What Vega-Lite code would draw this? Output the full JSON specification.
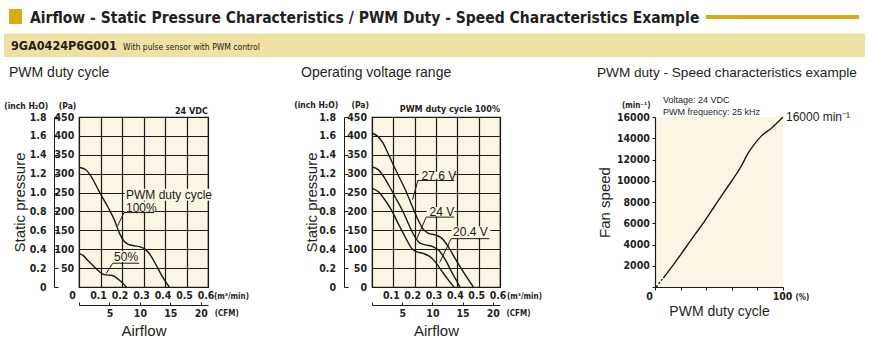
{
  "$schema": "https://vega.github.io/schema/vega-lite/v6.json",
  "padding": {"left": 3, "top": 8, "right": 0, "bottom": 0},
  "background": "#ffffff",
  "bounds": "flush",
  "spacing": 49,
  "config": {
    "view": {"stroke": null},
    "font": "Liberation Sans, Arial, sans-serif",
    "title": {"font": "Liberation Sans, Arial, sans-serif", "fontSize": 14, "fontWeight": "normal", "color": "#231F20", "anchor": "start", "frame": "group", "baseline": "bottom"},
    "axis": {
      "labelFont": "Liberation Sans Narrow, Arial Narrow, DejaVu Sans Condensed, sans-serif",
      "labelFontSize": 10.5, "labelFontWeight": "bold", "labelColor": "#231F20",
      "labelFlush": false, "labelOverlap": false,
      "titleFont": "Liberation Sans, Arial, sans-serif", "titleFontSize": 15, "titleFontWeight": "normal", "titleColor": "#231F20",
      "domainColor": "#1a1a1a", "tickColor": "#1a1a1a", "gridColor": "#1a1a1a", "gridWidth": 1.2, "gridOpacity": 1, "domainWidth": 1, "tickWidth": 1
    }
  },
  "datasets": {
    "p1_curves": [
      {"duty": "100%", "flow": 0, "pa": 317}, {"duty": "100%", "flow": 0.03, "pa": 311}, {"duty": "100%", "flow": 0.055, "pa": 294},
      {"duty": "100%", "flow": 0.08, "pa": 268}, {"duty": "100%", "flow": 0.105, "pa": 241}, {"duty": "100%", "flow": 0.135, "pa": 211},
      {"duty": "100%", "flow": 0.165, "pa": 177}, {"duty": "100%", "flow": 0.19, "pa": 140}, {"duty": "100%", "flow": 0.21, "pa": 121},
      {"duty": "100%", "flow": 0.23, "pa": 113}, {"duty": "100%", "flow": 0.26, "pa": 109}, {"duty": "100%", "flow": 0.285, "pa": 106},
      {"duty": "100%", "flow": 0.31, "pa": 99}, {"duty": "100%", "flow": 0.335, "pa": 82}, {"duty": "100%", "flow": 0.36, "pa": 57},
      {"duty": "100%", "flow": 0.385, "pa": 30}, {"duty": "100%", "flow": 0.405, "pa": 12}, {"duty": "100%", "flow": 0.42, "pa": 0},
      {"duty": "50%", "flow": 0, "pa": 89}, {"duty": "50%", "flow": 0.02, "pa": 83}, {"duty": "50%", "flow": 0.04, "pa": 71},
      {"duty": "50%", "flow": 0.065, "pa": 57}, {"duty": "50%", "flow": 0.09, "pa": 43}, {"duty": "50%", "flow": 0.11, "pa": 34},
      {"duty": "50%", "flow": 0.125, "pa": 32}, {"duty": "50%", "flow": 0.15, "pa": 31}, {"duty": "50%", "flow": 0.17, "pa": 26},
      {"duty": "50%", "flow": 0.19, "pa": 17}, {"duty": "50%", "flow": 0.205, "pa": 9}, {"duty": "50%", "flow": 0.22, "pa": 0}
    ],
    "p1_boxes": [
      {"flow": 0.212, "flow2": 0.625, "pa": 228, "pa2": 260},
      {"flow": 0.212, "flow2": 0.355, "pa": 199, "pa2": 226},
      {"flow": 0.16, "flow2": 0.28, "pa": 66, "pa2": 95}
    ],
    "p1_leaders": [
      {"flow": 0.209, "pa": 197, "flow2": 0.349, "pa2": 197},
      {"flow": 0.209, "pa": 197, "flow2": 0.18, "pa2": 162},
      {"flow": 0.157, "pa": 63, "flow2": 0.28, "pa2": 63},
      {"flow": 0.157, "pa": 63, "flow2": 0.127, "pa2": 36}
    ],
    "p1_labels": [
      {"text": "PWM duty cycle", "flow": 0.2186, "pa": 243.5},
      {"text": "100%", "flow": 0.2186, "pa": 210},
      {"text": "50%", "flow": 0.163, "pa": 80}
    ],
    "p2_curves": [
      {"volt": "27.6 V", "flow": 0, "pa": 407}, {"volt": "27.6 V", "flow": 0.025, "pa": 400}, {"volt": "27.6 V", "flow": 0.05, "pa": 383},
      {"volt": "27.6 V", "flow": 0.075, "pa": 354}, {"volt": "27.6 V", "flow": 0.1, "pa": 323}, {"volt": "27.6 V", "flow": 0.13, "pa": 288},
      {"volt": "27.6 V", "flow": 0.16, "pa": 253}, {"volt": "27.6 V", "flow": 0.19, "pa": 212}, {"volt": "27.6 V", "flow": 0.215, "pa": 179},
      {"volt": "27.6 V", "flow": 0.24, "pa": 153}, {"volt": "27.6 V", "flow": 0.265, "pa": 142}, {"volt": "27.6 V", "flow": 0.295, "pa": 138},
      {"volt": "27.6 V", "flow": 0.325, "pa": 130}, {"volt": "27.6 V", "flow": 0.355, "pa": 109}, {"volt": "27.6 V", "flow": 0.385, "pa": 80},
      {"volt": "27.6 V", "flow": 0.425, "pa": 43}, {"volt": "27.6 V", "flow": 0.455, "pa": 17}, {"volt": "27.6 V", "flow": 0.475, "pa": 0},
      {"volt": "24 V", "flow": 0, "pa": 318}, {"volt": "24 V", "flow": 0.03, "pa": 310}, {"volt": "24 V", "flow": 0.055, "pa": 292},
      {"volt": "24 V", "flow": 0.08, "pa": 268}, {"volt": "24 V", "flow": 0.11, "pa": 237}, {"volt": "24 V", "flow": 0.145, "pa": 200},
      {"volt": "24 V", "flow": 0.175, "pa": 162}, {"volt": "24 V", "flow": 0.2, "pa": 134}, {"volt": "24 V", "flow": 0.225, "pa": 116},
      {"volt": "24 V", "flow": 0.255, "pa": 111}, {"volt": "24 V", "flow": 0.285, "pa": 107}, {"volt": "24 V", "flow": 0.315, "pa": 96},
      {"volt": "24 V", "flow": 0.345, "pa": 71}, {"volt": "24 V", "flow": 0.375, "pa": 38}, {"volt": "24 V", "flow": 0.395, "pa": 18},
      {"volt": "24 V", "flow": 0.412, "pa": 0},
      {"volt": "20.4 V", "flow": 0, "pa": 262}, {"volt": "20.4 V", "flow": 0.03, "pa": 252}, {"volt": "20.4 V", "flow": 0.06, "pa": 231},
      {"volt": "20.4 V", "flow": 0.09, "pa": 205}, {"volt": "20.4 V", "flow": 0.12, "pa": 171}, {"volt": "20.4 V", "flow": 0.155, "pa": 133},
      {"volt": "20.4 V", "flow": 0.185, "pa": 103}, {"volt": "20.4 V", "flow": 0.21, "pa": 93}, {"volt": "20.4 V", "flow": 0.24, "pa": 89},
      {"volt": "20.4 V", "flow": 0.27, "pa": 81}, {"volt": "20.4 V", "flow": 0.3, "pa": 64}, {"volt": "20.4 V", "flow": 0.33, "pa": 40},
      {"volt": "20.4 V", "flow": 0.36, "pa": 17}, {"volt": "20.4 V", "flow": 0.385, "pa": 0}
    ],
    "p2_boxes": [
      {"flow": 0.218, "flow2": 0.387, "pa": 284, "pa2": 305},
      {"flow": 0.256, "flow2": 0.387, "pa": 187, "pa2": 212},
      {"flow": 0.373, "flow2": 0.555, "pa": 130, "pa2": 160}
    ],
    "p2_leaders": [
      {"flow": 0.215, "pa": 282, "flow2": 0.385, "pa2": 282},
      {"flow": 0.215, "pa": 282, "flow2": 0.19, "pa2": 231},
      {"flow": 0.254, "pa": 185, "flow2": 0.385, "pa2": 185},
      {"flow": 0.254, "pa": 185, "flow2": 0.208, "pa2": 125},
      {"flow": 0.371, "pa": 128, "flow2": 0.55, "pa2": 128},
      {"flow": 0.371, "pa": 128, "flow2": 0.317, "pa2": 65}
    ],
    "p2_labels": [
      {"text": "27.6 V", "flow": 0.232, "pa": 293},
      {"text": "24 V", "flow": 0.27, "pa": 199},
      {"text": "20.4 V", "flow": 0.38, "pa": 145}
    ],
    "p3_curve": [
      {"seg": "dash", "duty": 1, "rpm": 0}, {"seg": "dash", "duty": 6.5, "rpm": 850},
      {"seg": "solid", "duty": 6.5, "rpm": 850}, {"seg": "solid", "duty": 15, "rpm": 2200}, {"seg": "solid", "duty": 23, "rpm": 3550},
      {"seg": "solid", "duty": 31, "rpm": 4900}, {"seg": "solid", "duty": 38.5, "rpm": 6150}, {"seg": "solid", "duty": 46.5, "rpm": 7600},
      {"seg": "solid", "duty": 54.3, "rpm": 9000}, {"seg": "solid", "duty": 62, "rpm": 10350}, {"seg": "solid", "duty": 67.5, "rpm": 11400},
      {"seg": "solid", "duty": 72.5, "rpm": 12550}, {"seg": "solid", "duty": 78, "rpm": 13500}, {"seg": "solid", "duty": 83, "rpm": 14200},
      {"seg": "solid", "duty": 91, "rpm": 14950}, {"seg": "solid", "duty": 100, "rpm": 16000}
    ]
  },
  "vconcat": [
    {
      "width": 704,
      "height": 60,
      "data": {"values": [{"title": "Airflow - Static Pressure Characteristics / PWM Duty - Speed Characteristics Example", "model": "9GA0424P6G001", "note": "With pulse sensor with PWM control"}]},
      "layer": [
        {
          "mark": {"type": "rect", "color": "#EFE0A3"},
          "encoding": {
            "x": {"datum": -0.10653, "type": "quantitative", "scale": {"domain": [0, 1], "nice": false, "zero": false}, "axis": null},
            "x2": {"datum": 1.11648},
            "y": {"datum": 0.575, "type": "quantitative", "scale": {"domain": [0, 1], "nice": false, "zero": false}, "axis": null},
            "y2": {"datum": 0.1833}
          }
        },
        {
          "mark": {"type": "rect", "color": "#D9AB12"},
          "encoding": {
            "x": {"datum": -0.09943, "type": "quantitative"},
            "x2": {"datum": -0.08097},
            "y": {"datum": 0.9833, "type": "quantitative"},
            "y2": {"datum": 0.7333}
          }
        },
        {
          "mark": {"type": "rule", "color": "#D9AB12", "strokeWidth": 4},
          "encoding": {
            "x": {"datum": 0.8906, "type": "quantitative"},
            "x2": {"datum": 1.108},
            "y": {"datum": 0.85, "type": "quantitative"}
          }
        },
        {
          "mark": {"type": "text", "align": "left", "baseline": "alphabetic", "font": "Liberation Sans Narrow, Arial Narrow, DejaVu Sans Condensed, sans-serif", "fontSize": 15.5, "fontWeight": "bold", "color": "#231F20"},
          "encoding": {
            "x": {"datum": -0.0696, "type": "quantitative"},
            "y": {"datum": 0.745, "type": "quantitative"},
            "text": {"field": "title"}
          }
        },
        {
          "mark": {"type": "text", "align": "left", "baseline": "middle", "font": "Liberation Sans Narrow, Arial Narrow, DejaVu Sans Condensed, sans-serif", "fontSize": 12.5, "fontWeight": "bold", "color": "#231F20"},
          "encoding": {
            "x": {"datum": -0.09659, "type": "quantitative"},
            "y": {"datum": 0.375, "type": "quantitative"},
            "text": {"field": "model"}
          }
        },
        {
          "mark": {"type": "text", "align": "left", "baseline": "middle", "font": "Liberation Sans Narrow, Arial Narrow, DejaVu Sans Condensed, sans-serif", "fontSize": 8.5, "color": "#231F20"},
          "encoding": {
            "x": {"datum": 0.0625, "type": "quantitative"},
            "y": {"datum": 0.3583, "type": "quantitative"},
            "text": {"field": "note"}
          }
        }
      ]
    },
    {
      "bounds": "flush",
      "spacing": 0,
      "hconcat": [
        {
          "width": 129,
          "height": 170,
          "title": {"text": "PWM duty cycle", "dx": -70, "offset": 22},
          "view": {"fill": "#FBF6E3", "stroke": "#1a1a1a", "strokeWidth": 1.2},
          "resolve": {"axis": {"x": "independent", "y": "independent"}},
          "layer": [
            {
              "data": {"name": "p1_boxes"},
              "mark": {"type": "rect", "fill": "#FBF6E3"},
              "encoding": {
                "x": {"field": "flow", "type": "quantitative", "scale": {"domain": [0, 0.6], "nice": false, "zero": false}, "axis": null},
                "x2": {"field": "flow2"},
                "y": {"field": "pa", "type": "quantitative", "scale": {"domain": [0, 450], "nice": false, "zero": false}, "axis": null},
                "y2": {"field": "pa2"}
              }
            },
            {
              "data": {"name": "p1_curves"},
              "mark": {"type": "line", "interpolate": "monotone", "color": "#1a1a1a", "strokeWidth": 1.4},
              "encoding": {
                "x": {"field": "flow", "type": "quantitative", "axis": {
                  "orient": "bottom", "values": [0, 0.1, 0.2, 0.3, 0.4, 0.5, 0.6], "grid": true, "domain": false, "ticks": false, "tickSize": 0,
                  "labelPadding": 8.8, "labelBaseline": "middle",
                  "labelExpr": "datum.value == 0 ? '0' : datum.label",
                  "labelOffset": {"condition": {"test": "datum.value == 0", "value": -7}, "value": -2.5},
                  "title": "(m³/min)", "titleAngle": 0, "titleAlign": "left", "titleBaseline": "middle", "titleX": 134.5, "titleY": 9,
                  "titleFont": "Liberation Sans Narrow, Arial Narrow, DejaVu Sans Condensed, sans-serif", "titleFontSize": 8, "titleFontWeight": "bold"}},
                "y": {"field": "pa", "type": "quantitative", "axis": {
                  "orient": "left", "values": [0, 50, 100, 150, 200, 250, 300, 350, 400, 450], "grid": true, "domain": false, "ticks": false, "tickSize": 0,
                  "labelPadding": 5.3, "labelBaseline": "middle", "labelExpr": "datum.value == 0 ? '' : datum.label",
                  "title": "(Pa)", "titleAngle": 0, "titleAlign": "left", "titleBaseline": "middle", "titleX": -20.7, "titleY": -11.5,
                  "titleFont": "Liberation Sans Narrow, Arial Narrow, DejaVu Sans Condensed, sans-serif", "titleFontSize": 8.5, "titleFontWeight": "bold"}},
                "detail": {"field": "duty"}
              }
            },
            {
              "data": {"name": "p1_leaders"},
              "mark": {"type": "rule", "color": "#1a1a1a", "strokeWidth": 1},
              "encoding": {
                "x": {"field": "flow", "type": "quantitative", "axis": {
                  "orient": "bottom", "offset": 18, "grid": false, "domain": false, "ticks": false, "labels": false,
                  "title": "Airflow", "titleX": 64.5, "titleY": 25, "titleAlign": "center", "titleBaseline": "middle"}},
                "x2": {"field": "flow2"},
                "y": {"field": "pa", "type": "quantitative", "axis": {
                  "orient": "left", "offset": 25, "values": [0, 50, 100, 150, 200, 250, 300, 350, 400, 450], "grid": false, "domain": true,
                  "ticks": true, "tickSize": -4, "labels": false,
                  "title": "(inch H₂O)", "titleAngle": 0, "titleAlign": "right", "titleBaseline": "middle", "titleX": -6.3, "titleY": -11.5,
                  "titleFont": "Liberation Sans Narrow, Arial Narrow, DejaVu Sans Condensed, sans-serif", "titleFontSize": 8.5, "titleFontWeight": "bold"}},
                "y2": {"field": "pa2"}
              }
            },
            {
              "data": {"name": "p1_labels"},
              "mark": {"type": "text", "align": "left", "baseline": "middle", "font": "Liberation Sans, Arial, sans-serif", "fontSize": 12, "color": "#1a1a1a"},
              "encoding": {
                "x": {"field": "flow", "type": "quantitative", "axis": {
                  "orient": "bottom", "offset": 18, "values": [0, 0.14158, 0.28317, 0.42475, 0.56634], "grid": false, "domain": true,
                  "ticks": true, "tickSize": -3, "labelPadding": 11, "labelBaseline": "middle",
                  "labelExpr": "datum.value < 0.01 ? '' : format(datum.value / 0.0283168, '.0f')",
                  "title": "(CFM)", "titleAngle": 0, "titleAlign": "left", "titleBaseline": "middle", "titleX": 135.3, "titleY": 8,
                  "titleFont": "Liberation Sans Narrow, Arial Narrow, DejaVu Sans Condensed, sans-serif", "titleFontSize": 8, "titleFontWeight": "bold"}},
                "y": {"field": "pa", "type": "quantitative", "axis": {
                  "orient": "left", "offset": 25, "values": [0, 50, 100, 150, 200, 250, 300, 350, 400, 450], "grid": false, "domain": false,
                  "ticks": false, "tickSize": 0, "labelPadding": 8, "labelBaseline": "middle",
                  "labelExpr": "datum.value == 0 ? '0' : format(datum.value / 250, '.1f')",
                  "title": "Static pressure", "titleAngle": -90, "titleAlign": "center", "titleBaseline": "middle", "titleX": -35, "titleY": 85}},
                "text": {"field": "text"}
              }
            },
            {
              "data": {"values": [{}]},
              "mark": {"type": "text", "text": "24 VDC", "align": "right", "baseline": "middle", "dy": -6, "font": "Liberation Sans Narrow, Arial Narrow, DejaVu Sans Condensed, sans-serif", "fontSize": 9, "fontWeight": "bold", "color": "#231F20"},
              "encoding": {
                "x": {"datum": 0.6, "type": "quantitative", "axis": null},
                "y": {"datum": 450, "type": "quantitative", "axis": null}
              }
            }
          ]
        },
        {
          "width": 164,
          "height": 170,
          "data": {"values": []},
          "mark": "rect",
          "encoding": {}
        },
        {
          "width": 128,
          "height": 170,
          "title": {"text": "Operating voltage range", "dx": -71, "offset": 21},
          "view": {"fill": "#FBF6E3", "stroke": "#1a1a1a", "strokeWidth": 1.2},
          "resolve": {"axis": {"x": "independent", "y": "independent"}},
          "layer": [
            {
              "data": {"name": "p2_boxes"},
              "mark": {"type": "rect", "fill": "#FBF6E3"},
              "encoding": {
                "x": {"field": "flow", "type": "quantitative", "scale": {"domain": [0, 0.6], "nice": false, "zero": false}, "axis": null},
                "x2": {"field": "flow2"},
                "y": {"field": "pa", "type": "quantitative", "scale": {"domain": [0, 450], "nice": false, "zero": false}, "axis": null},
                "y2": {"field": "pa2"}
              }
            },
            {
              "data": {"name": "p2_curves"},
              "mark": {"type": "line", "interpolate": "monotone", "color": "#1a1a1a", "strokeWidth": 1.4},
              "encoding": {
                "x": {"field": "flow", "type": "quantitative", "axis": {
                  "orient": "bottom", "values": [0, 0.1, 0.2, 0.3, 0.4, 0.5, 0.6], "grid": true, "domain": false, "ticks": false, "tickSize": 0,
                  "labelPadding": 8.8, "labelBaseline": "middle", "labelOffset": -2.5,
                  "labelExpr": "datum.value == 0 ? '' : datum.label",
                  "title": "(m³/min)", "titleAngle": 0, "titleAlign": "left", "titleBaseline": "middle", "titleX": 134.5, "titleY": 9,
                  "titleFont": "Liberation Sans Narrow, Arial Narrow, DejaVu Sans Condensed, sans-serif", "titleFontSize": 8, "titleFontWeight": "bold"}},
                "y": {"field": "pa", "type": "quantitative", "axis": {
                  "orient": "left", "values": [0, 50, 100, 150, 200, 250, 300, 350, 400, 450], "grid": true, "domain": false, "ticks": false, "tickSize": 0,
                  "labelPadding": 5.5, "labelBaseline": "middle",
                  "title": "(Pa)", "titleAngle": 0, "titleAlign": "left", "titleBaseline": "middle", "titleX": -21, "titleY": -12.5,
                  "titleFont": "Liberation Sans Narrow, Arial Narrow, DejaVu Sans Condensed, sans-serif", "titleFontSize": 8.5, "titleFontWeight": "bold"}},
                "detail": {"field": "volt"}
              }
            },
            {
              "data": {"name": "p2_leaders"},
              "mark": {"type": "rule", "color": "#1a1a1a", "strokeWidth": 1},
              "encoding": {
                "x": {"field": "flow", "type": "quantitative", "axis": {
                  "orient": "bottom", "offset": 18, "grid": false, "domain": false, "ticks": false, "labels": false,
                  "title": "Airflow", "titleX": 64, "titleY": 25, "titleAlign": "center", "titleBaseline": "middle"}},
                "x2": {"field": "flow2"},
                "y": {"field": "pa", "type": "quantitative", "axis": {
                  "orient": "left", "offset": 28, "values": [0, 50, 100, 150, 200, 250, 300, 350, 400, 450], "grid": false, "domain": true,
                  "ticks": true, "tickSize": -4, "labels": false,
                  "title": "(inch H₂O)", "titleAngle": 0, "titleAlign": "right", "titleBaseline": "middle", "titleX": -6.3, "titleY": -12.5,
                  "titleFont": "Liberation Sans Narrow, Arial Narrow, DejaVu Sans Condensed, sans-serif", "titleFontSize": 8.5, "titleFontWeight": "bold"}},
                "y2": {"field": "pa2"}
              }
            },
            {
              "data": {"name": "p2_labels"},
              "mark": {"type": "text", "align": "left", "baseline": "middle", "font": "Liberation Sans, Arial, sans-serif", "fontSize": 12, "color": "#1a1a1a"},
              "encoding": {
                "x": {"field": "flow", "type": "quantitative", "axis": {
                  "orient": "bottom", "offset": 18, "values": [0, 0.14158, 0.28317, 0.42475, 0.56634], "grid": false, "domain": true,
                  "ticks": true, "tickSize": -3, "labelPadding": 11, "labelBaseline": "middle",
                  "labelExpr": "datum.value < 0.01 ? '' : format(datum.value / 0.0283168, '.0f')",
                  "title": "(CFM)", "titleAngle": 0, "titleAlign": "left", "titleBaseline": "middle", "titleX": 134, "titleY": 8,
                  "titleFont": "Liberation Sans Narrow, Arial Narrow, DejaVu Sans Condensed, sans-serif", "titleFontSize": 8, "titleFontWeight": "bold"}},
                "y": {"field": "pa", "type": "quantitative", "axis": {
                  "orient": "left", "offset": 28, "values": [0, 50, 100, 150, 200, 250, 300, 350, 400, 450], "grid": false, "domain": false,
                  "ticks": false, "tickSize": 0, "labelPadding": 8.5, "labelBaseline": "middle",
                  "labelExpr": "datum.value == 0 ? '0' : format(datum.value / 250, '.1f')",
                  "title": "Static pressure", "titleAngle": -90, "titleAlign": "center", "titleBaseline": "middle", "titleX": -33, "titleY": 85}},
                "text": {"field": "text"}
              }
            },
            {
              "data": {"values": [{}]},
              "mark": {"type": "text", "text": "PWM duty cycle 100%", "align": "right", "baseline": "middle", "dy": -8, "font": "Liberation Sans Narrow, Arial Narrow, DejaVu Sans Condensed, sans-serif", "fontSize": 9, "fontWeight": "bold", "color": "#231F20"},
              "encoding": {
                "x": {"datum": 0.6, "type": "quantitative", "axis": null},
                "y": {"datum": 450, "type": "quantitative", "axis": null}
              }
            }
          ]
        },
        {
          "width": 155,
          "height": 170,
          "data": {"values": []},
          "mark": "rect",
          "encoding": {}
        },
        {
          "width": 128,
          "height": 170,
          "title": {"text": "PWM duty - Speed characteristics example", "dx": -58, "offset": 16, "fontSize": 13.6},
          "view": {"fill": "#FBF6E3", "stroke": null},
          "data": {"name": "p3_curve"},
          "resolve": {"axis": {"x": "independent", "y": "independent"}},
          "layer": [
            {
              "transform": [{"filter": "datum.seg == 'dash'"}],
              "mark": {"type": "line", "color": "#1a1a1a", "strokeWidth": 1.4, "strokeDash": [2, 2]},
              "encoding": {
                "x": {"field": "duty", "type": "quantitative", "scale": {"domain": [0, 100], "nice": false, "zero": false}, "axis": {
                  "orient": "bottom", "grid": false, "domain": false, "ticks": false, "labels": false,
                  "title": "PWM duty cycle", "titleX": 64, "titleY": 24, "titleAlign": "center", "titleBaseline": "middle", "titleFontSize": 14}},
                "y": {"field": "rpm", "type": "quantitative", "scale": {"domain": [0, 16000], "nice": false, "zero": false}, "axis": {
                  "orient": "left", "grid": false, "domain": false, "ticks": false, "labels": false,
                  "title": "Fan speed", "titleAngle": -90, "titleX": -51, "titleY": 85, "titleAlign": "center", "titleBaseline": "middle"}}
              }
            },
            {
              "transform": [{"filter": "datum.seg == 'solid'"}],
              "mark": {"type": "line", "interpolate": "monotone", "color": "#1a1a1a", "strokeWidth": 1.4},
              "encoding": {
                "x": {"field": "duty", "type": "quantitative", "axis": {
                  "orient": "bottom", "values": [0, 20, 40, 60, 80, 100], "grid": false, "domain": true, "domainWidth": 1.2,
                  "ticks": true, "tickSize": 3, "labelPadding": 6.7, "labelBaseline": "middle",
                  "labelExpr": "datum.value == 0 || datum.value == 100 ? datum.label : ''",
                  "labelOffset": {"condition": {"test": "datum.value == 0", "value": -6}, "value": -1},
                  "title": "(%)", "titleAngle": 0, "titleAlign": "left", "titleBaseline": "middle", "titleX": 140, "titleY": 10,
                  "titleFont": "Liberation Sans Narrow, Arial Narrow, DejaVu Sans Condensed, sans-serif", "titleFontSize": 8, "titleFontWeight": "bold"}},
                "y": {"field": "rpm", "type": "quantitative", "axis": {
                  "orient": "left", "values": [0, 2000, 4000, 6000, 8000, 10000, 12000, 14000, 16000], "format": "d", "grid": false,
                  "domain": true, "domainWidth": 1.2, "ticks": true, "tickSize": 3, "labelPadding": 2.7, "labelBaseline": "middle",
                  "labelExpr": "datum.value == 0 ? '' : datum.label",
                  "title": "(min⁻¹)", "titleAngle": 0, "titleAlign": "right", "titleBaseline": "middle", "titleX": -5, "titleY": -12,
                  "titleFont": "Liberation Sans Narrow, Arial Narrow, DejaVu Sans Condensed, sans-serif", "titleFontSize": 8, "titleFontWeight": "bold"}}
              }
            },
            {
              "data": {"values": [{}]},
              "mark": {"type": "text", "text": "16000 min⁻¹", "align": "left", "baseline": "middle", "dx": 3, "font": "Liberation Sans, Arial, sans-serif", "fontSize": 12, "color": "#231F20"},
              "encoding": {
                "x": {"datum": 100, "type": "quantitative", "axis": null},
                "y": {"datum": 16000, "type": "quantitative", "axis": null}
              }
            },
            {
              "data": {"values": [{}]},
              "mark": {"type": "text", "text": "Voltage: 24 VDC", "align": "left", "baseline": "middle", "dy": -17, "font": "Liberation Sans, Arial, sans-serif", "fontSize": 9, "color": "#231F20"},
              "encoding": {
                "x": {"datum": 6.25, "type": "quantitative", "axis": null},
                "y": {"datum": 16000, "type": "quantitative", "axis": null}
              }
            },
            {
              "data": {"values": [{}]},
              "mark": {"type": "text", "text": "PWM frequency: 25 kHz", "align": "left", "baseline": "middle", "dy": -5, "font": "Liberation Sans, Arial, sans-serif", "fontSize": 9, "color": "#231F20"},
              "encoding": {
                "x": {"datum": 6.25, "type": "quantitative", "axis": null},
                "y": {"datum": 16000, "type": "quantitative", "axis": null}
              }
            }
          ]
        }
      ]
    }
  ]
}
